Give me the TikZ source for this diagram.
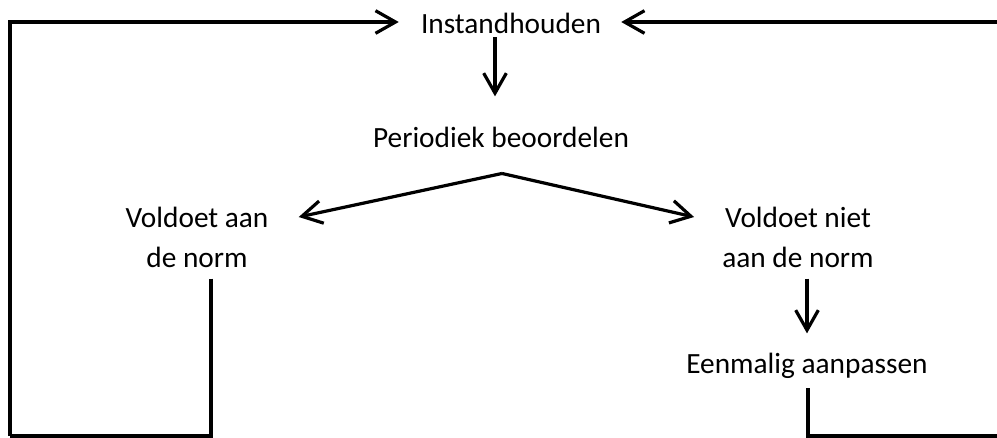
\documentclass[tikz,border=0pt]{standalone}
\usepackage{fontspec}
\setmainfont{Carlito}
\usetikzlibrary{arrows.meta,calc}
\tikzset{
  lbl/.style={inner sep=0pt, font=\fontsize{22}{30}\selectfont, align=center, text=black},
  conn/.style={line width=2.4pt, draw=black},
  arr/.style={conn, -{Straight Barb[length=15pt,width=17pt]}},
}
\begin{document}
\begin{tikzpicture}[x=0.75pt,y=-0.75pt]
\useasboundingbox (0,0) rectangle (997,437);
\node[lbl, anchor=base] (inst) at (511,33) {Instandhouden};
\node[lbl, anchor=base] (per) at (501,147) {Periodiek beoordelen};
\node[lbl] (va) at (197,237) {Voldoet aan\\de norm};
\node[lbl] (vn) at (798,237) {Voldoet niet\\aan de norm};
\node[lbl, anchor=base] (een) at (807,373) {Eenmalig aanpassen};
\coordinate (lb) at (10,436);
\coordinate (rt) at (997,22);
\coordinate (rb) at (997,436);
\coordinate (apex) at ($(per.south)+(1,26)$);
% loops back to top
\draw[arr] (lb) |- ($(inst.west |- rt)+(-22,0)$);
\draw[arr] (rt) -- ($(inst.east |- rt)+(20,0)$);
\draw[arr] ($(inst.south)+(-16,4)$) -- ($(per.north)+(-6,-30)$);
\draw[arr] (apex) -- ($(va.east)+(30,-20)$);
\draw[arr] (apex) -- ($(vn.west)+(-28,-20)$);
\draw[conn] ($(va.south)+(14,11)$) |- (lb);
\draw[arr] ($(vn.south)+(9,11)$) -- ($(een.north)+(0,-19)$);
\draw[conn] ($(een.south)+(1,10)$) |- (rb);
\end{tikzpicture}
\end{document}
